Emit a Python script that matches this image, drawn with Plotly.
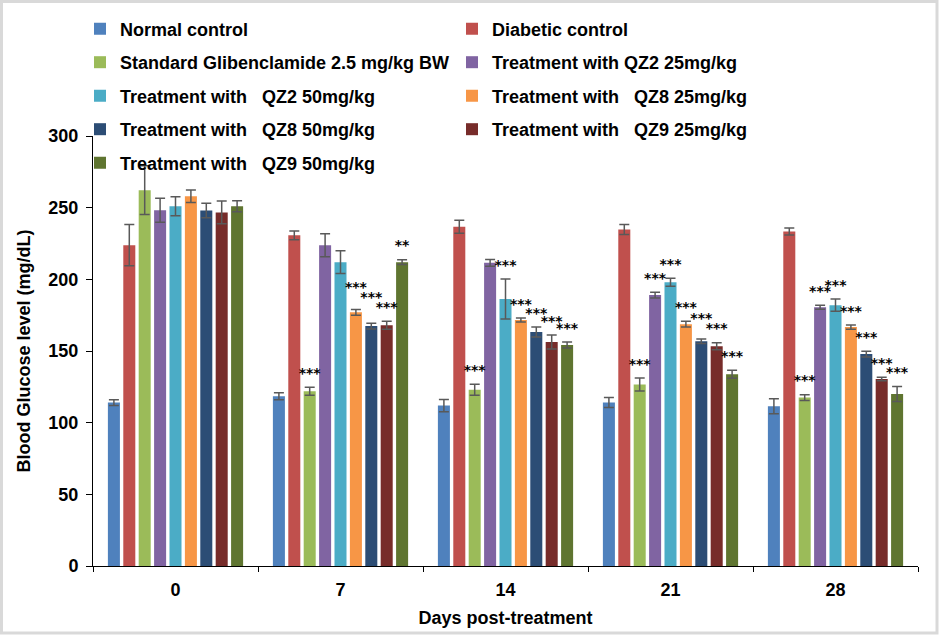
import plotly.graph_objects as go

# ---------------- data ----------------
days = ["0", "7", "14", "21", "28"]

series_names = [
    "Normal control",
    "Diabetic control",
    "Standard Glibenclamide 2.5 mg/kg BW",
    "Treatment with QZ2 25mg/kg",
    "Treatment with   QZ2 50mg/kg",
    "Treatment with   QZ8 25mg/kg",
    "Treatment with   QZ8 50mg/kg",
    "Treatment with   QZ9 25mg/kg",
    "Treatment with   QZ9 50mg/kg",
]

normal_control = [114.0, 118.4, 111.9, 114.0, 111.4]
diabetic_control = [223.8, 230.7, 236.7, 234.7, 233.4]
glibenclamide = [262.2, 121.9, 123.0, 126.6, 117.5]
qz2_25 = [248.2, 223.8, 211.5, 189.0, 180.6]
qz2_50 = [251.0, 212.0, 186.3, 198.0, 182.0]
qz8_25 = [258.0, 177.0, 171.6, 168.7, 166.7]
qz8_50 = [248.0, 167.4, 163.3, 156.8, 147.9]
qz9_25 = [246.7, 168.0, 156.3, 153.3, 130.5]
qz9_50 = [251.0, 212.0, 154.2, 133.8, 120.0]

normal_control_err = [2.0, 2.4, 4.2, 3.5, 5.2]
diabetic_control_err = [14.4, 3.1, 4.5, 3.5, 2.4]
glibenclamide_err = [17.0, 2.8, 3.8, 4.5, 2.0]
qz2_25_err = [8.4, 8.0, 2.4, 2.0, 1.4]
qz2_50_err = [6.6, 8.0, 14.0, 2.8, 4.2]
qz8_25_err = [4.4, 2.0, 1.4, 2.0, 1.5]
qz8_50_err = [5.0, 2.0, 3.5, 1.6, 2.0]
qz9_25_err = [8.0, 2.8, 4.9, 2.4, 1.2]
qz9_50_err = [3.8, 1.7, 2.1, 2.8, 5.2]

normal_control_sig = ["", "", "", "", ""]
diabetic_control_sig = ["", "", "", "", ""]
glibenclamide_sig = ["", "***", "***", "***", "***"]
qz2_25_sig = ["", "", "", "***", "***"]
qz2_50_sig = ["", "", "***", "***", "***"]
qz8_25_sig = ["", "***", "***", "***", "***"]
qz8_50_sig = ["", "***", "***", "***", "***"]
qz9_25_sig = ["", "***", "***", "***", "***"]
qz9_50_sig = ["", "**", "***", "***", "***"]

values = [normal_control, diabetic_control, glibenclamide, qz2_25, qz2_50,
          qz8_25, qz8_50, qz9_25, qz9_50]
errors = [normal_control_err, diabetic_control_err, glibenclamide_err, qz2_25_err,
          qz2_50_err, qz8_25_err, qz8_50_err, qz9_25_err, qz9_50_err]
sigs = [normal_control_sig, diabetic_control_sig, glibenclamide_sig, qz2_25_sig,
        qz2_50_sig, qz8_25_sig, qz8_50_sig, qz9_25_sig, qz9_50_sig]

colors = ["#4F81BD", "#C0504D", "#9BBB59", "#8064A2", "#4BACC6",
          "#F79646", "#2C4D75", "#772C2A", "#5F7530"]

# ---------------- layout constants ----------------
W, H = 942, 635
ML, MR, MT, MB = 93, 24, 136, 69
PW, PH = W - ML - MR, H - MT - MB
FONT = "Liberation Sans, Arial, sans-serif"
STAR_FONT = "DejaVu Sans, Liberation Sans, sans-serif"
STAR_OFFSET = 9    # data units above error-bar top
STAR_CLOSE = 3     # labels closer than this (data units) are separated
STAR_SEP = 7       # separation applied (data units)
BARGAP = 0.16

# significance label heights: above error bar, separated when two neighbours clash
n_series, n_days = len(values), len(days)
label_y = [[values[s][d] + errors[s][d] + STAR_OFFSET for d in range(n_days)]
           for s in range(n_series)]
for d in range(n_days):
    for s in range(n_series - 2, -1, -1):
        if not sigs[s][d] or not sigs[s + 1][d]:
            continue
        right = label_y[s + 1][d]
        if abs(label_y[s][d] - right) < STAR_CLOSE:
            lowered = right - STAR_SEP
            if lowered >= values[s][d] + errors[s][d] + 4:
                label_y[s][d] = lowered
            else:
                label_y[s][d] = right + STAR_SEP

fig = go.Figure()

legend_ids = ["legend", "legend2", "legend3", "legend4", "legend5"]

for i, (nm, v, e, c) in enumerate(zip(series_names, values, errors, colors)):
    fig.add_trace(go.Bar(
        x=days, y=v, name=nm,
        marker=dict(color=c, line=dict(width=0)),
        error_y=dict(type="data", array=e, visible=True, color="#595959",
                     thickness=1.5, width=5),
        offsetgroup=str(i),
        legend=legend_ids[i // 2],
        hoverinfo="skip",
    ))

for i, s in enumerate(sigs):
    fig.add_trace(go.Scatter(
        x=days, y=label_y[i],
        mode="text", text=s, textposition="middle center",
        textfont=dict(family=STAR_FONT, size=14, color="black", weight="bold"),
        offsetgroup=str(i), showlegend=False, hoverinfo="skip",
        cliponaxis=False,
    ))

# legends: one per row, two columns
legend_layout = {}
for r, lid in enumerate(legend_ids):
    py = 29 + r * 33.5
    legend_layout[lid] = dict(
        orientation="h", xref="container", yref="container",
        x=80 / W, y=1 - py / H, xanchor="left", yanchor="middle",
        entrywidth=327, entrywidthmode="pixels",
        font=dict(family=FONT, size=18, color="black", weight="bold"),
        bgcolor="rgba(0,0,0,0)", borderwidth=0,
        traceorder="normal",
    )

fig.update_layout(
    width=W, height=H,
    margin=dict(l=ML, r=MR, t=MT, b=MB, autoexpand=False),
    paper_bgcolor="white", plot_bgcolor="white",
    barmode="group", bargap=BARGAP, bargroupgap=0.22,
    scattermode="group", scattergap=BARGAP,
    font=dict(family=FONT, size=18, color="black"),
    showlegend=True,
    **legend_layout,
)

fig.update_xaxes(
    type="category", showline=True, linecolor="black", linewidth=1,
    ticks="outside", tickson="boundaries", ticklen=5, tickcolor="black",
    ticklabelstandoff=7,
    tickfont=dict(family=FONT, size=18, color="black", weight="bold"),
    showgrid=False, zeroline=False, automargin=False,
    title=dict(text="Days post-treatment", standoff=12,
               font=dict(family=FONT, size=18, color="black", weight="bold")),
)
fig.update_yaxes(
    range=[0, 300], dtick=50, showline=True, linecolor="black", linewidth=1,
    ticks="outside", ticklen=6, tickcolor="black",
    ticklabelstandoff=4,
    tickfont=dict(family=FONT, size=18, color="black", weight="bold"),
    showgrid=False, zeroline=False, automargin=False,
    title=dict(text="Blood Glucose level (mg/dL)", standoff=13,
               font=dict(family=FONT, size=18, color="black", weight="bold")),
)

# chart outer border (pixel positions converted to paper units)
fig.add_shape(
    type="rect", xref="paper", yref="paper",
    x0=(1.5 - ML) / PW, x1=(937 - ML) / PW,
    y0=(H - MB - 633) / PH, y1=(H - MB - 1.5) / PH,
    line=dict(color="#D9D9D9", width=3), fillcolor="rgba(0,0,0,0)",
    layer="above",
)

fig.write_html("out.html", config={"displayModeBar": False})

# remove default page margin so the figure fills the window exactly
with open("out.html", "r", encoding="utf-8") as f:
    html = f.read()
html = html.replace("<head>", "<head><style>html,body{margin:0;padding:0;overflow:hidden;}</style>", 1)
with open("out.html", "w", encoding="utf-8") as f:
    f.write(html)
